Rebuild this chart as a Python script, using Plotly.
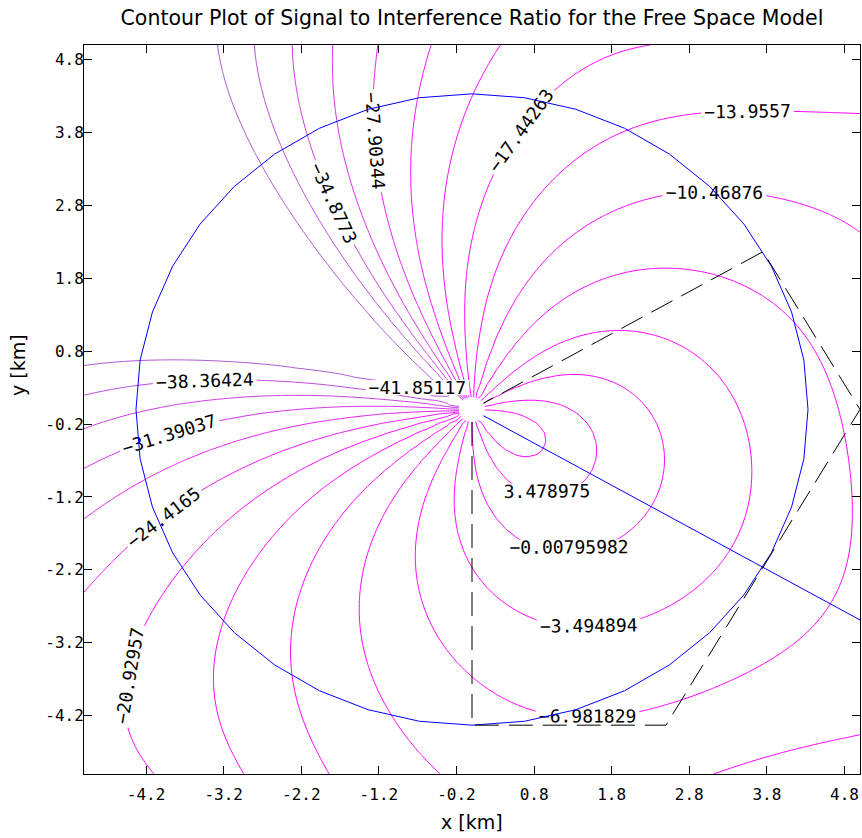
import numpy as np
import plotly.graph_objects as go

# ---------------- data ----------------
# contour levels (dB): first level and spacing of the 15 levels printed on the chart
level_first = -41.85117274
level_step = 3.48693441
level_count = 15
tick_vals = [-4.2, -3.2, -2.2, -1.2, -0.2, 0.8, 1.8, 2.8, 3.8, 4.8]
tick_text = ["-4.2", "-3.2", "-2.2", "-1.2", "-0.2", "0.8", "1.8", "2.8", "3.8", "4.8"]

# free-space model parameters
sector_boresights_deg = [-30, 90, 210]          # serving sector first
neighbour_angles_deg = [0, 60, 120, 180, 240, 300]
reuse_distance_km = 8.66
pattern_exponent = 2.5
pattern_floor = 6e-5
neighbour_power = 1.5
cell_radius_km = 4.33
grid_points = 80
origin_gap_km = 0.17            # undefined cells around the site

# sector outline (dashed) and boresight line
sector_x = [0, 3.75, 5.0, 2.5, 0, 0]
sector_y = [0, 2.165, 0, -4.33, -4.33, 0]
boresight_len_km = 7.0

# ---------------- model ----------------
xs = np.linspace(-5, 5, grid_points)
X, Y = np.meshgrid(xs, xs)
R2 = X ** 2 + Y ** 2
TH = np.arctan2(Y, X)


def gain(phi):
    return ((1 + np.cos(phi)) / 2) ** pattern_exponent + pattern_floor


b = np.radians(sector_boresights_deg)
S = gain(TH - b[0])
I_co = gain(TH - b[1]) + gain(TH - b[2])
I_far = np.zeros_like(X)
for a in np.radians(neighbour_angles_deg):
    px, py = reuse_distance_km * np.cos(a), reuse_distance_km * np.sin(a)
    I_far += neighbour_power / ((X - px) ** 2 + (Y - py) ** 2)
sir = 10 * np.log10(S / (I_co + R2 * I_far))

# ---------------- figure ----------------
FONT = "DejaVu Sans"
MONO = "DejaVu Sans Mono"
level_last = level_first + (level_count - 1) * level_step
fig = go.Figure()

fig.add_trace(go.Contour(
    x=xs, y=xs, z=sir, showscale=False, autocontour=False,
    zauto=False, zmin=level_first, zmax=level_last,
    colorscale=[[0, "rgb(175,85,210)"], [0.45, "rgb(255,0,255)"], [1, "rgb(255,0,255)"]],
    contours=dict(start=level_first, end=level_last + level_step * 0.01, size=level_step,
                  coloring="lines", showlabels=True, labelformat=".7~g",
                  labelfont=dict(family=MONO, size=18, color="black")),
    line=dict(width=1, smoothing=0.6),
    hoverinfo="skip"))

theta = np.linspace(0, 2 * np.pi, 41)
fig.add_trace(go.Scatter(x=cell_radius_km * np.cos(theta), y=cell_radius_km * np.sin(theta),
                         mode="lines", line=dict(color="rgb(0,0,255)", width=1), hoverinfo="skip"))
bb = np.radians(sector_boresights_deg[0])
fig.add_trace(go.Scatter(x=[0, boresight_len_km * np.cos(bb)], y=[0, boresight_len_km * np.sin(bb)],
                         mode="lines", line=dict(color="rgb(0,0,255)", width=1), hoverinfo="skip"))
fig.add_trace(go.Scatter(x=sector_x, y=sector_y, mode="lines",
                         line=dict(color="black", width=1, dash="24px,10px"), hoverinfo="skip"))

axis_common = dict(range=[-5, 5], tickvals=tick_vals, ticktext=tick_text, ticks="inside",
                   ticklen=8, tickcolor="black", showline=True, linecolor="black",
                   linewidth=1, mirror="allticks", showgrid=False, zeroline=False,
                   tickfont=dict(family=MONO, size=16, color="black"))
fig.update_xaxes(**axis_common, ticklabelstandoff=6)
fig.update_yaxes(**axis_common, ticklabelstandoff=-4)

fig.update_layout(
    width=862, height=838, showlegend=False,
    margin=dict(l=84, r=2, t=45, b=64),
    paper_bgcolor="white", plot_bgcolor="white",
    shapes=[dict(type="circle", xref="x", yref="y", layer="above",
                 x0=-origin_gap_km, x1=origin_gap_km, y0=-origin_gap_km, y1=origin_gap_km,
                 fillcolor="white", line=dict(width=0))],
    title=dict(text="Contour Plot of Signal to Interference Ratio for the Free Space Model",
               x=472 / 862, xanchor="center", y=1 - 18 / 838, yanchor="middle",
               font=dict(family=FONT, size=20.5, color="black")),
    annotations=[
        dict(text="x [km]", xref="paper", yref="paper", x=0.5, y=-(822 - 774) / 729,
             xanchor="center", yanchor="middle", showarrow=False,
             font=dict(family=FONT, size=19, color="black")),
        dict(text="y [km]", xref="paper", yref="paper", x=(18 - 84) / 776, y=(774 - 365) / 729,
             xanchor="center", yanchor="middle", showarrow=False, textangle=-90,
             font=dict(family=FONT, size=19, color="black")),
    ],
)
fig.write_html("out.html", config={"displayModeBar": False},
               post_script="document.body.style.margin='0px';document.body.style.overflow='hidden';")
